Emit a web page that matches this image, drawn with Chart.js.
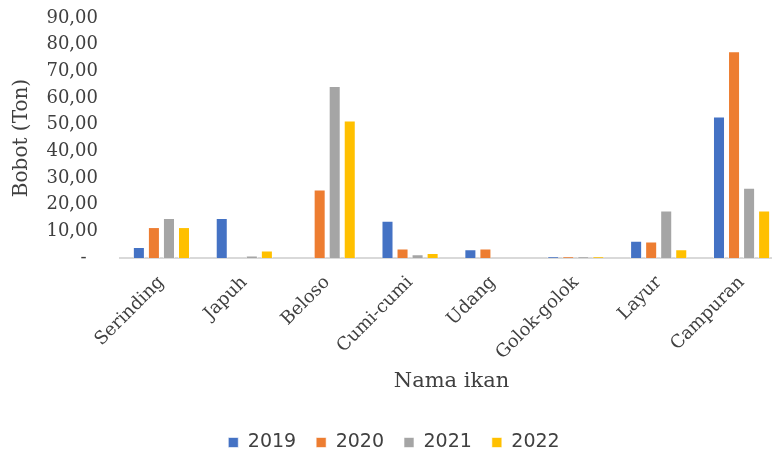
<!DOCTYPE html>
<html>
<head>
<meta charset="utf-8">
<script src="https://cdn.jsdelivr.net/npm/chart.js@4/dist/chart.umd.min.js"></script>
<style>
  html, body { margin: 0; padding: 0; background: #fff; }
  #wrap { width: 772px; height: 452px; }
</style>
</head>
<body>
<div id="wrap"><canvas id="chart"></canvas></div>
<script>
// Catch per jenis ikan, in tons
const labels = ["Serinding", "Japuh", "Beloso", "Cumi-cumi", "Udang", "Golok-golok", "Layur", "Campuran"];
const y2019 = [4.1, 15.0, 0, 14.0, 3.3, 0.6, 6.5, 53.1];
const y2020 = [11.6, 0, 25.7, 3.6, 3.6, 0.6, 6.2, 77.5];
const y2021 = [15.0, 0.9, 64.5, 1.4, 0, 0.6, 17.8, 26.3];
const y2022 = [11.6, 2.8, 51.6, 1.9, 0, 0.6, 3.3, 17.8];

const serif = "'DejaVu Serif', serif";
const grey = "#404040";

function ds(label, data, color) {
    return {
        label: label,
        data: data,
        backgroundColor: color,
        borderColor: "rgba(255,255,255,0.6)",
        borderWidth: 1,
        barPercentage: 0.8,
        categoryPercentage: 0.726
    };
}

// plot runs a bit past the right edge of the canvas, legend nudged right
const stretchRight = {
    id: "stretchRight",
    afterLayout(chart) {
        const x = chart.scales.x;
        x.right += 11;
        x.width = x.right - x.left;
        x.configure();
        chart.chartArea.right = x.right;
        chart.chartArea.width = x.width;
        chart.legend.left += 8;
        chart.legend.right += 8;
    }
};

new Chart(document.getElementById("chart"), {
    type: "bar",
    data: {
        labels: labels,
        datasets: [
            ds("2019", y2019, "#4472C4"),
            ds("2020", y2020, "#ED7D31"),
            ds("2021", y2021, "#A5A5A5"),
            ds("2022", y2022, "#FFC000")
        ]
    },
    plugins: [stretchRight],
    options: {
        responsive: true,
        maintainAspectRatio: false,
        animation: false,
        layout: { padding: { top: 18, right: 0, left: 0, bottom: -10 } },
        plugins: {
            legend: {
                position: "bottom",
                labels: {
                    boxWidth: 10,
                    boxHeight: 10,
                    padding: 20,
                    color: grey,
                    font: { family: "'DejaVu Sans', sans-serif", size: 19 }
                }
            },
            tooltip: { enabled: false }
        },
        scales: {
            x: {
                grid: { display: false },
                border: { color: "#d9d9d9", width: 2 },
                ticks: {
                    minRotation: 45,
                    maxRotation: 45,
                    padding: 6,
                    color: grey,
                    font: { family: serif, size: 18 }
                },
                title: {
                    display: true,
                    text: "Nama ikan",
                    color: grey,
                    font: { family: serif, size: 21 },
                    padding: { top: 10, bottom: 19 }
                },
                afterFit: s => {
                    s.height = 155;
                    s.paddingLeft = 0;
                    s.paddingRight = 0;
                }
            },
            y: {
                min: 0,
                max: 90,
                grid: { display: false },
                border: { display: false },
                ticks: {
                    stepSize: 10,
                    padding: 14,
                    color: grey,
                    font: { family: serif, size: 18 },
                    callback: v => v === 0 ? "-  " : v.toFixed(2).replace(".", ",")
                },
                title: {
                    display: true,
                    text: "Bobot (Ton)",
                    color: grey,
                    font: { family: serif, size: 20 },
                    padding: { top: 10, bottom: 4 }
                },
                afterFit: s => {
                    s.width = 120;
                    s.paddingTop = 0;
                    s.paddingBottom = 0;
                }
            }
        }
    }
});
</script>
</body>
</html>
